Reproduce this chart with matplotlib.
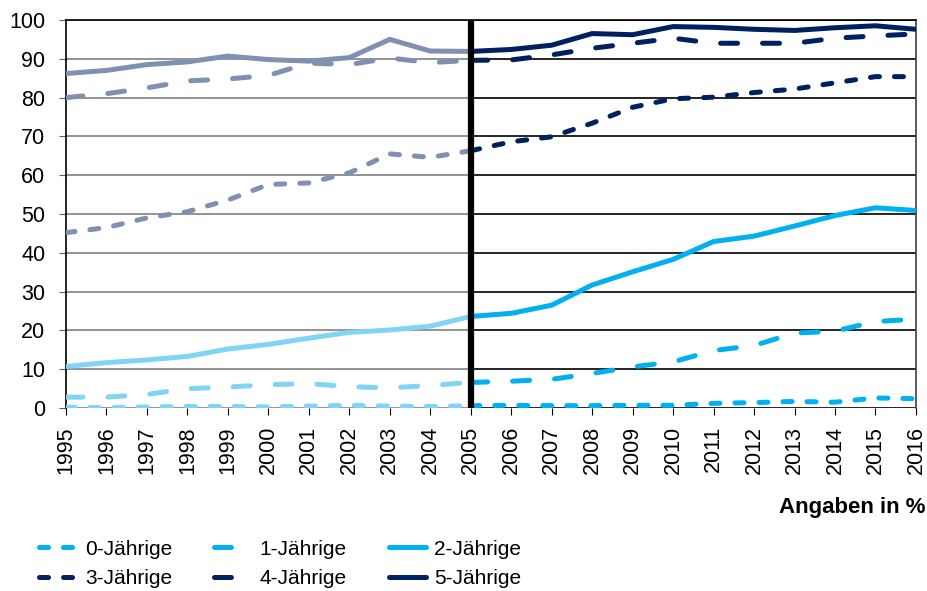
import matplotlib
matplotlib.use("Agg")
import matplotlib.pyplot as plt

plt.rcParams['font.family'] = ['Liberation Sans', 'DejaVu Sans']
plt.rcParams['lines.scale_dashes'] = False

years = list(range(1995, 2017))
series_names = ['0-Jährige', '1-Jährige', '2-Jährige', '3-Jährige', '4-Jährige', '5-Jährige']

age0 = [0.2, 0.1, 0.3, 0.4, 0.4, 0.3, 0.5, 0.7, 0.5, 0.4, 0.6,
        0.7, 0.6, 0.6, 0.7, 0.7, 1.2, 1.4, 1.7, 1.5, 2.6, 2.4]
age1 = [2.8, 2.8, 3.5, 5.0, 5.4, 6.0, 6.3, 5.5, 5.2, 5.8, 6.6,
        6.9, 7.4, 8.9, 10.6, 11.9, 14.8, 16.1, 19.3, 19.8, 22.3, 22.9]
age2 = [10.7, 11.7, 12.4, 13.3, 15.2, 16.4, 18.0, 19.5, 20.1, 21.1, 23.6,
        24.4, 26.5, 31.7, 35.1, 38.3, 42.9, 44.3, 46.9, 49.6, 51.6, 50.9]
age3 = [45.2, 46.5, 49.0, 50.6, 53.6, 57.6, 58.0, 60.6, 65.5, 64.6, 66.3,
        68.6, 69.9, 73.4, 77.5, 79.7, 80.1, 81.3, 82.2, 83.8, 85.4, 85.4]
age4 = [80.0, 81.0, 82.5, 84.3, 84.8, 85.7, 88.9, 88.5, 90.2, 89.0, 89.6,
        89.7, 91.0, 92.7, 94.0, 95.3, 94.0, 94.0, 94.0, 95.3, 95.9, 96.4]
age5 = [86.2, 87.0, 88.5, 89.2, 90.7, 89.8, 89.4, 90.3, 95.0, 92.0, 91.9,
        92.4, 93.5, 96.5, 96.2, 98.3, 98.1, 97.6, 97.3, 98.0, 98.5, 97.6]

split_year = 2005
y_ticks = list(range(0, 101, 10))

all_series = [age0, age1, age2, age3, age4, age5]
light_blue, strong_blue = '#80d4f6', '#00b0f0'
grey_blue, navy = '#8090b2', '#002060'
old_colors = [light_blue, light_blue, light_blue, grey_blue, grey_blue, grey_blue]
new_colors = [strong_blue, strong_blue, strong_blue, navy, navy, navy]
short_dash = (0, (6.5, 10.8))
long_dash = (0, (12.2, 18.0))
styles = [short_dash, long_dash, '-', short_dash, long_dash, '-']

fig = plt.figure(figsize=(9.28, 5.91), dpi=100)
ax = fig.add_axes([0.0711, 0.3096, 0.9159, 0.6566])

# grid: grey before the break, black after it
ax.hlines(y_ticks, years[0], split_year, color='#808080', lw=1.2, zorder=1)
ax.hlines(y_ticks, split_year, years[-1], color='black', lw=1.2, zorder=1)

k = years.index(split_year)
lw = 3.6
handles = []
for vals, c_old, c_new, ls, name in zip(all_series, old_colors, new_colors, styles, series_names):
    ax.plot(years[:k + 1], vals[:k + 1], color=c_old, lw=lw, ls=ls,
            dash_capstyle='round', solid_capstyle='round', zorder=3)
    h, = ax.plot(years[k:], vals[k:], color=c_new, lw=lw, ls=ls,
                 dash_capstyle='round', solid_capstyle='round', zorder=3, label=name)
    handles.append(h)

ax.axvline(split_year, color='black', lw=4.5, zorder=4)

ax.set_xlim(years[0], years[-1])
ax.set_ylim(0, 100)
ax.set_yticks(y_ticks)
ax.set_xticks(years)
ax.set_xticklabels([str(y) for y in years], rotation=90, fontsize=15.5)
ax.tick_params(axis='y', labelsize=15.5, length=5, color='#606060', pad=10)
ax.tick_params(axis='x', length=5, color='black', pad=8)

ax.spines['bottom'].set_visible(False)
ax.spines['left'].set_color('black')
ax.spines['left'].set_linewidth(1.2)
ax.spines['top'].set_color('black')
ax.spines['top'].set_linewidth(1.2)
ax.spines['right'].set_color('#404040')
ax.spines['right'].set_linewidth(1.2)

fig.text(0.997, 0.142, 'Angaben in %', ha='right', va='center',
         fontsize=16, fontweight='bold')

# legend filled row by row: 0,1,2 on top, 3,4,5 below
order = [0, 3, 1, 4, 2, 5]
fig.legend([handles[i] for i in order], [series_names[i] for i in order],
           loc='lower left', bbox_to_anchor=(0.022, -0.027), ncol=3,
           frameon=False, handlelength=1.8, handletextpad=0.4,
           columnspacing=2.0, labelspacing=0.5, fontsize=15)

fig.savefig('out.png', dpi=100)
